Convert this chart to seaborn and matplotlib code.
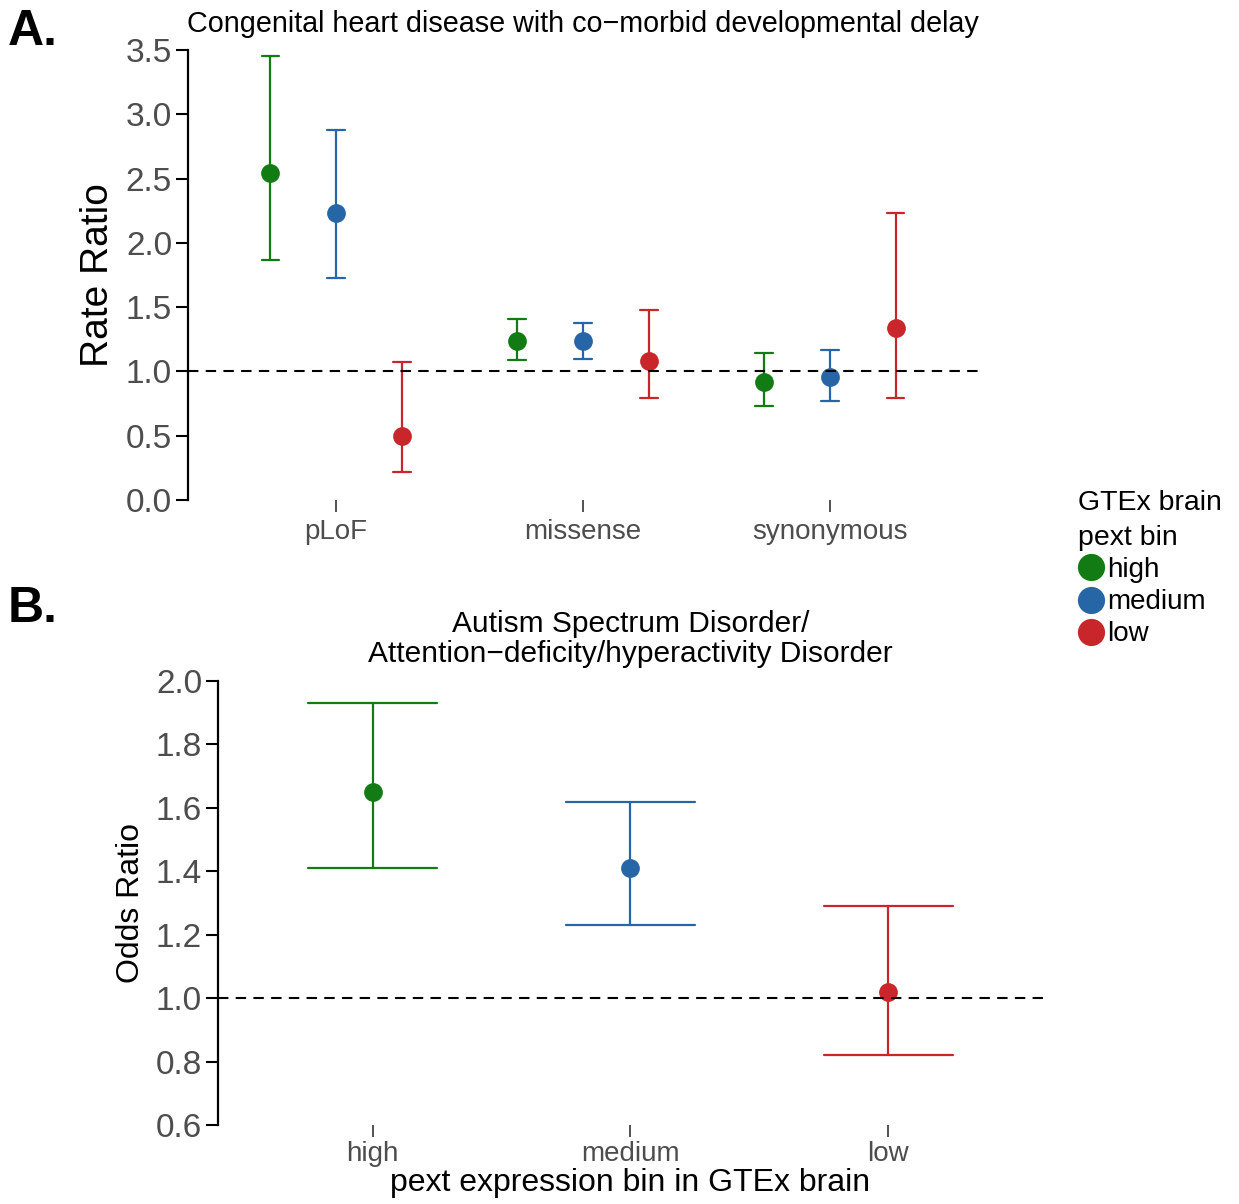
import numpy as np
import pandas as pd
import matplotlib
matplotlib.use("Agg")
import matplotlib.pyplot as plt
import seaborn as sns

sns.set_style("ticks")
plt.rcParams["font.family"] = ["Liberation Sans", "DejaVu Sans"]
plt.rcParams["text.color"] = "black"
plt.rcParams["axes.labelcolor"] = "black"

# Panel A: rate ratios in CHD with developmental delay
classes = ["pLoF", "missense", "synonymous"]
bins = ["high", "medium", "low"]
rate_est = [2.54, 2.23, 0.50, 1.24, 1.24, 1.08, 0.92, 0.96, 1.34]
rate_lo = [1.87, 1.73, 0.22, 1.09, 1.10, 0.79, 0.73, 0.77, 0.79]
rate_hi = [3.45, 2.88, 1.07, 1.41, 1.38, 1.48, 1.14, 1.17, 2.23]

# Panel B: odds ratios in ASD/ADHD
odds_est = [1.65, 1.41, 1.02]
odds_lo = [1.41, 1.23, 0.82]
odds_hi = [1.93, 1.62, 1.29]

palette = {"high": "#137B13", "medium": "#2766A6", "low": "#C8262B"}
tick_grey = "#4D4D4D"


def long_table(groups, hues, lo, est, hi):
    # three rows per point: median -> estimate, min/max -> interval
    rows = []
    for g, h, a, b, c in zip(groups, hues, lo, est, hi):
        for v in (a, b, c):
            rows.append({"group": g, "bin": h, "value": v})
    return pd.DataFrame(rows)


df_a = long_table(np.repeat(classes, 3), bins * 3, rate_lo, rate_est, rate_hi)
df_b = long_table(bins, bins, odds_lo, odds_est, odds_hi)

W, H = 1239, 1204
fig = plt.figure(figsize=(W / 100, H / 100), dpi=100)
ax_a = fig.add_axes([188 / W, 1 - 500 / H, 790 / W, 450 / H])
ax_b = fig.add_axes([218 / W, 1 - 1125 / H, 825 / W, 444 / H])

span = lambda v: (v.min(), v.max())

sns.pointplot(data=df_a, x="group", y="value", hue="bin", order=classes,
              hue_order=bins, palette=palette, estimator="median",
              errorbar=span, dodge=0.534, capsize=0.07, linestyle="none",
              markersize=13.5, markeredgewidth=0,
              err_kws={"linewidth": 1.6}, ax=ax_a)

sns.pointplot(data=df_b, x="group", y="value", hue="group", order=bins,
              hue_order=bins, palette=palette, estimator="median",
              errorbar=span, dodge=False, capsize=0.5, linestyle="none",
              markersize=13.5, markeredgewidth=0, legend=False,
              err_kws={"linewidth": 1.6}, ax=ax_b)

for ax in (ax_a, ax_b):
    ax.axhline(1, color="black", lw=1.5, ls=(0, (5, 3.5)), zorder=5)
    ax.set_xlim(-0.6, 2.6)
    sns.despine(ax=ax, bottom=True)
    ax.spines["left"].set_linewidth(1.6)
    ax.spines["left"].set_color("black")
    ax.tick_params(axis="y", length=8.5, width=1.5, color="black",
                   labelsize=24, labelcolor=tick_grey, pad=3)
    ax.tick_params(axis="x", length=8.5, width=1.2, color="#333333",
                   labelsize=20, labelcolor=tick_grey, pad=5)
ax_b.tick_params(axis="x", pad=3)

ax_a.set_ylim(0, 3.5)
ax_a.set_yticks(np.arange(0, 3.51, 0.5))
ax_a.set_xlabel("")
ax_a.set_ylabel("Rate Ratio", fontsize=28, labelpad=7)
ax_a.set_title("Congenital heart disease with co\u2212morbid developmental delay",
               fontsize=20.7, pad=13)

ax_b.set_ylim(0.6, 2.0)
ax_b.set_yticks(np.round(np.arange(0.6, 2.01, 0.2), 1))
ax_b.set_xlabel("pext expression bin in GTEx brain", fontsize=23, labelpad=1)
ax_b.set_ylabel("Odds Ratio", fontsize=23, labelpad=7)
ax_b.set_title("Autism Spectrum Disorder/\nAttention\u2212deficity/hyperactivity Disorder",
               fontsize=21.5, pad=14, linespacing=1.05)

sns.move_legend(ax_a, "upper left", bbox_to_anchor=(1078 / W, 1 - 490 / H),
                bbox_transform=fig.transFigure, title="GTEx brain\npext bin",
                frameon=False, fontsize=20, title_fontsize=20.5,
                markerscale=1.45, handlelength=0.9, handletextpad=0.15,
                labelspacing=0.22, borderpad=0, borderaxespad=0,
                alignment="left")
leg = ax_a.get_legend()
leg.get_title().set_linespacing(1.45)

fig.text(8 / W, 1 - 45 / H, "A.", fontsize=36, fontweight="bold",
         va="baseline", color="black")
fig.text(8 / W, 1 - 622 / H, "B.", fontsize=36, fontweight="bold",
         va="baseline", color="black")

fig.savefig("out.png", dpi=100)
